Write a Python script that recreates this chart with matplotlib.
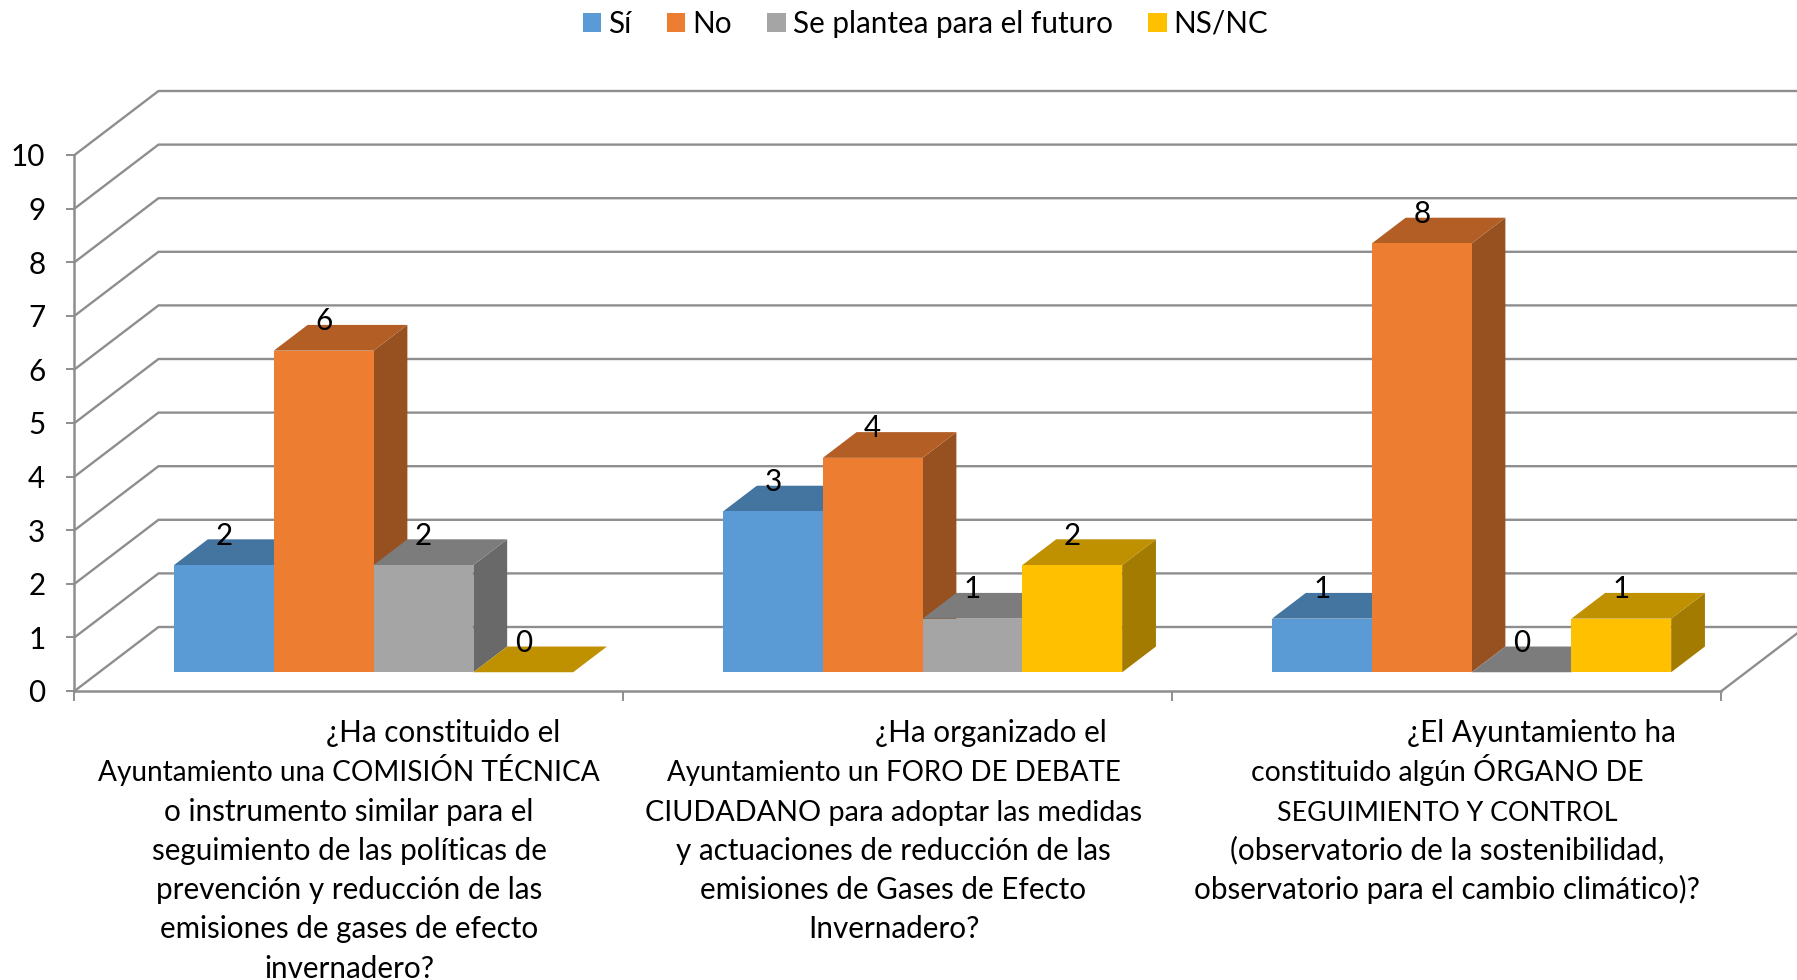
import matplotlib
matplotlib.use("Agg")
import matplotlib.pyplot as plt
from matplotlib.patches import Polygon, Patch

plt.rcParams['font.family'] = ['Lato', 'DejaVu Sans']

series = ['Sí', 'No', 'Se plantea para el futuro', 'NS/NC']
si = [2, 3, 1]
no = [6, 4, 8]
futuro = [2, 1, 0]
nsnc = [0, 2, 1]
values = [si, no, futuro, nsnc]
front = ['#5B9BD5', '#ED7D31', '#A5A5A5', '#FFC000']
top = ['#4474A0', '#B25E25', '#7C7C7C', '#BF9000']
side = ['#3A6488', '#975020', '#696969', '#A37B00']
yticks = list(range(11))
cat_lines = [
    ['¿Ha constituido el', 'Ayuntamiento una COMISIÓN TÉCNICA', 'o instrumento similar para el',
     'seguimiento de las políticas de', 'prevención y reducción de las',
     'emisiones de gases de efecto', 'invernadero?'],
    ['¿Ha organizado el', 'Ayuntamiento un FORO DE DEBATE', 'CIUDADANO para adoptar las medidas',
     'y actuaciones de reducción de las', 'emisiones de Gases de Efecto', 'Invernadero?'],
    ['¿El Ayuntamiento ha', 'constituido algún ÓRGANO DE', 'SEGUIMIENTO Y CONTROL',
     '(observatorio de la sostenibilidad,', 'observatorio para el cambio climático)?'],
]

W, H = 1797, 980
FS = 21.3
# capitals run wider in this font than in the reference, so these lines are set a little smaller
LINE_SIZES = {
    'Ayuntamiento una COMISIÓN TÉCNICA': 20.15,
    'Ayuntamiento un FORO DE DEBATE': 20.0,
    'CIUDADANO para adoptar las medidas': 20.7,
    'constituido algún ÓRGANO DE': 20.4,
    'SEGUIMIENTO Y CONTROL': 19.3,
}
GRID = '#8E8E8E'
# axis geometry in pixels
x0_px, y0_px = 74.5, 691
cat_px, val_px = 549, 53.6
# oblique projection: full depth of the chart box
DX, DY = 84 / cat_px, 64 / val_px
bar_d0, bar_d1 = 0.293, 0.695
gap = 0.1365
bar_w = (1 - 2 * gap) / len(series)

fig = plt.figure(figsize=(W / 100, H / 100), dpi=100, facecolor='white')
ax = fig.add_axes([0, 0, 1, 1])
ax.set_xlim(-x0_px / cat_px, (W - x0_px) / cat_px)
ax.set_ylim((y0_px - H) / val_px, y0_px / val_px)
ax.patch.set_visible(False)


def proj(x, v, d):
    return (x + d * DX, v + d * DY)


# walls
for v in yticks:
    ax.plot([0, DX, 3 + DX], [v, v + DY, v + DY], color=GRID, lw=1.7, zorder=1, solid_joinstyle='miter')
ax.plot([3, 3 + DX], [0, DY], color=GRID, lw=1.7, zorder=1)

# axes
for s in ('top', 'right'):
    ax.spines[s].set_visible(False)
ax.spines['left'].set_position(('data', 0))
ax.spines['left'].set_bounds(0, 10)
ax.spines['bottom'].set_position(('data', 0))
ax.spines['bottom'].set_bounds(0, 3)
for s in ('left', 'bottom'):
    ax.spines[s].set_color(GRID)
    ax.spines[s].set_linewidth(1.8)
    ax.spines[s].set_zorder(1.5)
ax.set_yticks(yticks)
ax.set_xticks([0, 1, 2, 3])
ax.set_xticklabels([])
ax.tick_params(axis='y', length=6, width=1.4, color=GRID, labelsize=FS, pad=15, labelcolor='black')
ax.tick_params(axis='x', length=7, width=1.4, color=GRID)

# bars
z = 2
for cat in range(3):
    for i in range(len(series)):
        v = values[i][cat]
        xl = cat + gap + i * bar_w
        xr = xl + bar_w
        if v > 0:
            ax.add_patch(Polygon([proj(xl, 0, bar_d0), proj(xr, 0, bar_d0), proj(xr, v, bar_d0), proj(xl, v, bar_d0)],
                                 closed=True, fc=front[i], ec='none', zorder=z + 0.2))
            ax.add_patch(Polygon([proj(xr, 0, bar_d0), proj(xr, 0, bar_d1), proj(xr, v, bar_d1), proj(xr, v, bar_d0)],
                                 closed=True, fc=side[i], ec='none', zorder=z))
        ax.add_patch(Polygon([proj(xl, v, bar_d0), proj(xr, v, bar_d0), proj(xr, v, bar_d1), proj(xl, v, bar_d1)],
                             closed=True, fc=top[i], ec='none', zorder=z + 0.1))
        lx, ly = proj(xl + bar_w / 2, v, bar_d0)
        ax.text(lx, ly + 0.55, str(v), ha='center', va='center', fontsize=FS, color='black', zorder=50)
        z += 1

# category labels (drawn line by line: the first line of each label sits further right)
FIRST_SHIFT_PX = [94, 97, 94]
BLOCK_SHIFT_PX = [0, -4.5, 0]
LINE = 39.3 / val_px
for cat, lines in enumerate(cat_lines):
    for n, line in enumerate(lines):
        xc = cat + 0.5 + (BLOCK_SHIFT_PX[cat] + (FIRST_SHIFT_PX[cat] if n == 0 else 0)) / cat_px
        ax.text(xc, -0.95 - n * LINE, line, ha='center', va='baseline', fontsize=LINE_SIZES.get(line, FS),
                color='black', clip_on=False)

handles = [Patch(fc=c, ec='none') for c in front]
fig.legend(handles, series, loc='center', bbox_to_anchor=(925.5 / W, 1 - 24 / H), ncol=4, frameon=False,
           fontsize=FS, handlelength=0.62, handleheight=0.62, handletextpad=0.24, columnspacing=1.2, borderpad=0)

fig.savefig('out.png', dpi=100, facecolor='white')
